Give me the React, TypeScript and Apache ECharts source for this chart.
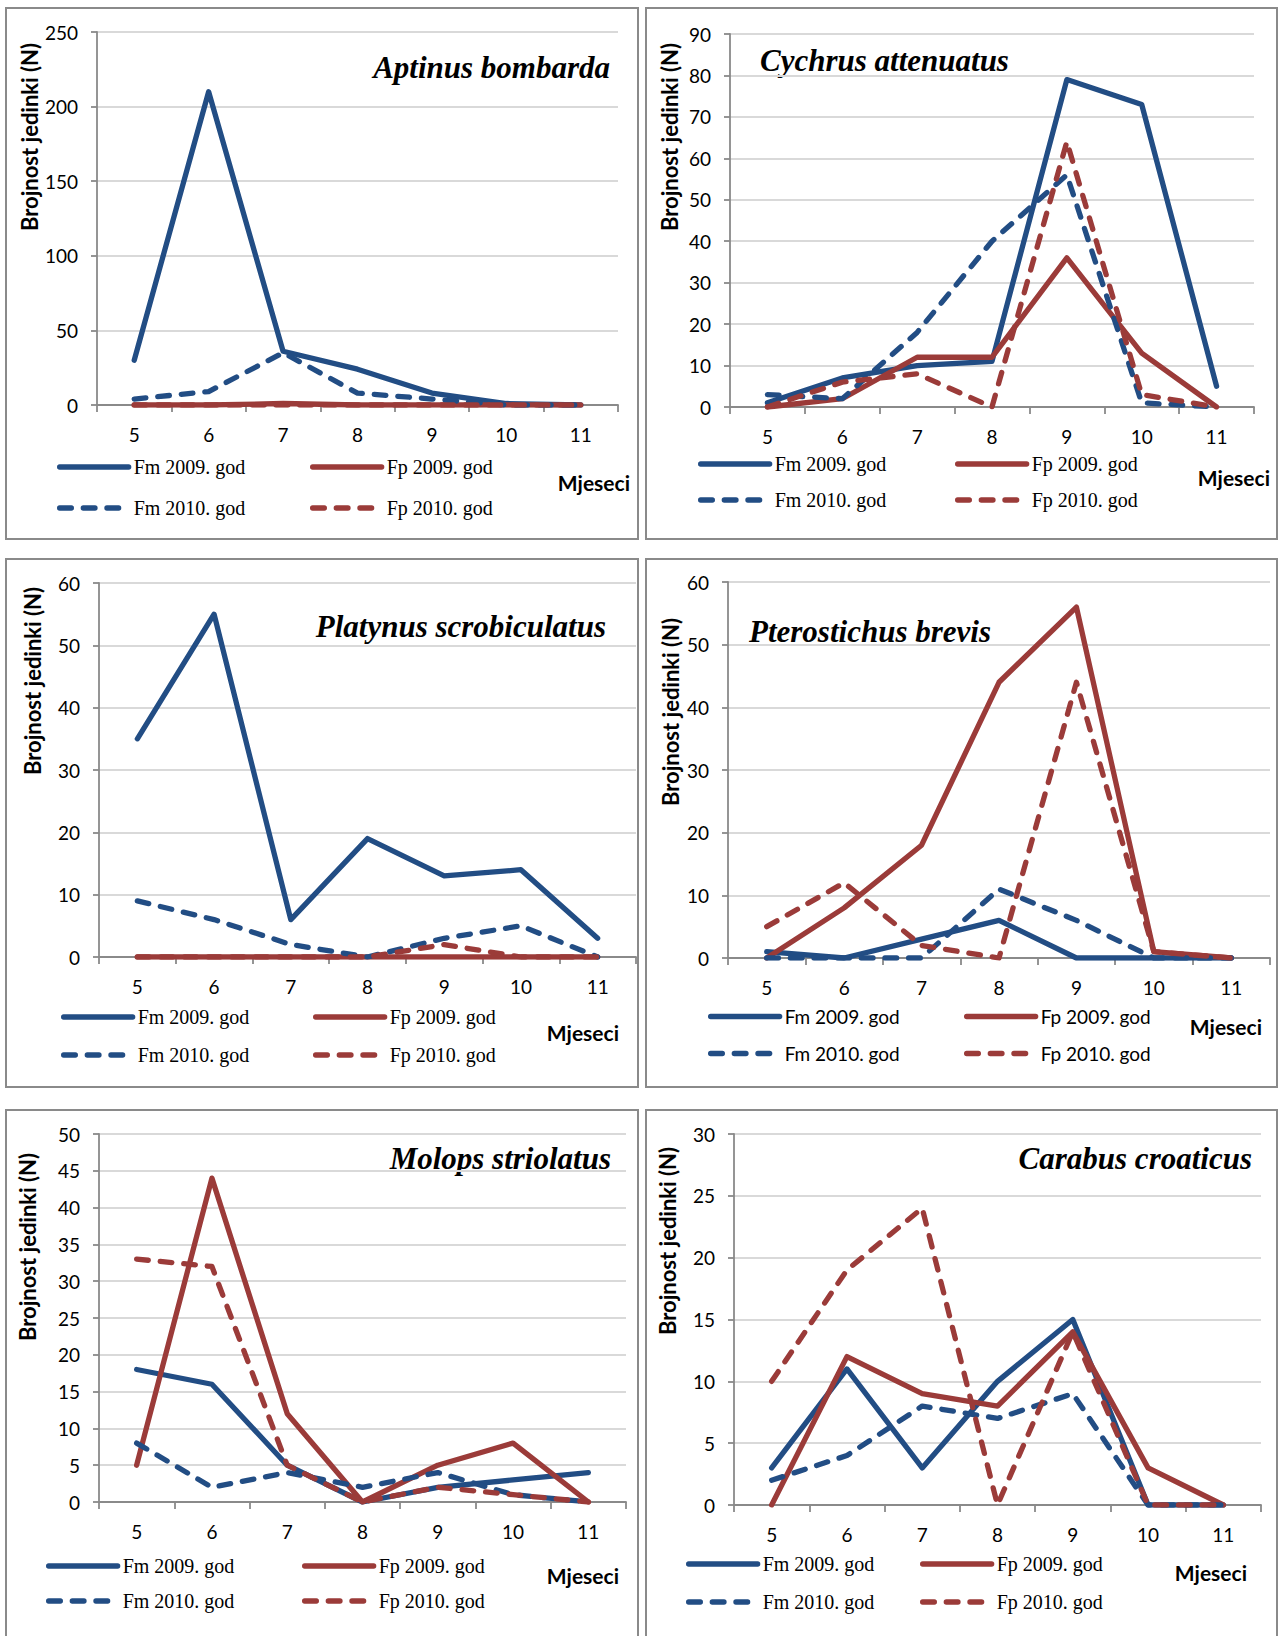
import React, { useEffect, useRef } from 'react';
import * as echarts from 'echarts';

// ---------- data ----------
const months = ['5', '6', '7', '8', '9', '10', '11'];
const seriesNames = ['Fm 2009. god', 'Fp 2009. god', 'Fm 2010. god', 'Fp 2010. god'];
const yAxisTitle = 'Brojnost jedinki (N)';
const xAxisTitle = 'Mjeseci';
const speciesNames = [
  'Aptinus bombarda',
  'Cychrus attenuatus',
  'Platynus scrobiculatus',
  'Pterostichus brevis',
  'Molops striolatus',
  'Carabus croaticus',
];
const yMax = [250, 90, 60, 60, 50, 30];
const yStep = [50, 10, 10, 10, 5, 5];

const aptinusFm2009 = [30, 210, 36, 24, 8, 1, 0];
const aptinusFp2009 = [0, 0, 1, 0, 0, 0, 0];
const aptinusFm2010 = [4, 9, 35, 8, 4, 0, 0];
const aptinusFp2010 = [0, 0, 0, 0, 0, 0, 0];

const cychrusFm2009 = [1, 7, 10, 11, 79, 73, 5];
const cychrusFp2009 = [0, 2, 12, 12, 36, 13, 0];
const cychrusFm2010 = [3, 2, 18, 40, 56, 1, 0];
const cychrusFp2010 = [0, 6, 8, 0, 64, 3, 0];

const platynusFm2009 = [35, 55, 6, 19, 13, 14, 3];
const platynusFp2009 = [0, 0, 0, 0, 0, 0, 0];
const platynusFm2010 = [9, 6, 2, 0, 3, 5, 0];
const platynusFp2010 = [0, 0, 0, 0, 2, 0, 0];

const pterostichusFm2009 = [1, 0, 3, 6, 0, 0, 0];
const pterostichusFp2009 = [0, 8, 18, 44, 56, 1, 0];
const pterostichusFm2010 = [0, 0, 0, 11, 6, 0, 0];
const pterostichusFp2010 = [5, 12, 2, 0, 44, 1, 0];

const molopsFm2009 = [18, 16, 5, 0, 2, 3, 4];
const molopsFp2009 = [5, 44, 12, 0, 5, 8, 0];
const molopsFm2010 = [8, 2, 4, 2, 4, 1, 0];
const molopsFp2010 = [33, 32, 5, 0, 2, 1, 0];

const carabusFm2009 = [3, 11, 3, 10, 15, 0, 0];
const carabusFp2009 = [0, 12, 9, 8, 14, 3, 0];
const carabusFm2010 = [2, 4, 8, 7, 9, 0, 0];
const carabusFp2010 = [10, 19, 24, 0, 14, 0, 0];

const panelData = [
  [aptinusFm2009, aptinusFp2009, aptinusFm2010, aptinusFp2010],
  [cychrusFm2009, cychrusFp2009, cychrusFm2010, cychrusFp2010],
  [platynusFm2009, platynusFp2009, platynusFm2010, platynusFp2010],
  [pterostichusFm2009, pterostichusFp2009, pterostichusFm2010, pterostichusFp2010],
  [molopsFm2009, molopsFp2009, molopsFm2010, molopsFp2010],
  [carabusFm2009, carabusFp2009, carabusFm2010, carabusFp2010],
];

// ---------- layout & style ----------
type Layout = {
  grid: number[];
  frame: number[];
  title: { x: number; y: number; align: string };
  yTitle: number[];
  xTitle: number[];
  legendX: number[];
  legendY: number[];
  legendSans: boolean;
};

const layouts: Layout[] = [
  { grid: [97, 32, 521, 373], frame: [6, 8, 632, 531], title: { x: 610, y: 67, align: 'right' }, yTitle: [29, 137], xTitle: [630, 482], legendX: [57, 310], legendY: [467, 508], legendSans: false },
  { grid: [730, 34, 524, 373], frame: [646, 8, 631, 531], title: { x: 760, y: 60, align: 'left' }, yTitle: [669, 137], xTitle: [1270, 477], legendX: [698, 955], legendY: [464, 500], legendSans: false },
  { grid: [99, 583, 537, 374], frame: [6, 559, 632, 528], title: { x: 606, y: 626, align: 'right' }, yTitle: [32, 681], xTitle: [619, 1032], legendX: [61, 313], legendY: [1017, 1055], legendSans: false },
  { grid: [728, 582, 542, 376], frame: [646, 559, 631, 528], title: { x: 749, y: 631, align: 'left' }, yTitle: [670, 712], xTitle: [1262, 1026], legendX: [708, 964], legendY: [1017, 1054], legendSans: true },
  { grid: [99, 1134, 527, 368], frame: [6, 1110, 632, 560], title: { x: 611, y: 1158, align: 'right' }, yTitle: [27, 1247], xTitle: [619, 1575], legendX: [46, 302], legendY: [1566, 1601], legendSans: false },
  { grid: [734, 1134, 527, 371], frame: [646, 1110, 631, 560], title: { x: 1252, y: 1158, align: 'right' }, yTitle: [667, 1241], xTitle: [1247, 1572], legendX: [686, 920], legendY: [1564, 1602], legendSans: false },
];

const BLUE = '#224d84';
const RED = '#9b3b39';
const seriesColors = [BLUE, RED, BLUE, RED];
const seriesDashed = [false, false, true, true];
const DASH = [11.7, 11.95];
const LINE_W = 5.3;
const SANS = 'Lato, "Noto Sans", sans-serif';
const SERIF = '"Liberation Serif", "DejaVu Serif", serif';
const AXIS_GRAY = '#8a8a8a';
const GRID_GRAY = '#d9d9d9';

function buildOption() {
  const grid: any[] = [];
  const xAxis: any[] = [];
  const yAxis: any[] = [];
  const series: any[] = [];
  const legend: any[] = [];
  const graphic: any[] = [];

  layouts.forEach((L, i) => {
    grid.push({ left: L.grid[0], top: L.grid[1], width: L.grid[2], height: L.grid[3], containLabel: false });
    xAxis.push({
      type: 'category',
      gridIndex: i,
      data: months,
      boundaryGap: true,
      axisLine: { show: true, lineStyle: { color: AXIS_GRAY, width: 1.8 } },
      axisTick: { show: true, alignWithLabel: false, length: 7, inside: false, lineStyle: { color: AXIS_GRAY, width: 1.8 } },
      axisLabel: { interval: 0, margin: 20, color: '#000', fontFamily: SANS, fontSize: 19, lineHeight: 19 },
      splitLine: { show: false },
    });
    yAxis.push({
      type: 'value',
      gridIndex: i,
      min: 0,
      max: yMax[i],
      interval: yStep[i],
      axisLine: { show: true, lineStyle: { color: AXIS_GRAY, width: 1.8 } },
      axisTick: { show: true, length: 6, inside: false, lineStyle: { color: AXIS_GRAY, width: 1.8 } },
      axisLabel: { margin: 19, color: '#000', fontFamily: SANS, fontSize: 19 },
      splitLine: { show: true, lineStyle: { color: GRID_GRAY, width: 2 } },
    });
    panelData[i].forEach((values, j) => {
      series.push({
        type: 'line',
        name: seriesNames[j],
        xAxisIndex: i,
        yAxisIndex: i,
        data: values,
        symbol: 'none',
        silent: true,
        z: 2 + j,
        itemStyle: { color: seriesColors[j] },
        lineStyle: {
          color: seriesColors[j],
          width: LINE_W,
          type: seriesDashed[j] ? DASH : 'solid',
          cap: 'round',
          join: 'round',
        },
      });
      legend.push({
        data: [seriesNames[j]],
        left: L.legendX[j % 2],
        top: L.legendY[Math.floor(j / 2)] - 10,
        padding: 0,
        itemGap: 0,
        itemWidth: 69,
        itemHeight: 20,
        selectedMode: false,
        itemStyle: { opacity: 0 },
        lineStyle: {
          width: LINE_W,
          color: seriesColors[j],
          type: seriesDashed[j] ? DASH : 'solid',
          cap: 'round',
        },
        textStyle: {
          color: '#000',
          fontFamily: L.legendSans ? SANS : SERIF,
          fontSize: L.legendSans ? 19 : 20,
        },
      });
    });

    graphic.push({
      type: 'rect',
      silent: true,
      shape: { x: L.frame[0], y: L.frame[1], width: L.frame[2], height: L.frame[3] },
      style: { fill: 'none', stroke: '#8a8a8a', lineWidth: 2 },
      z: 0,
    });
    graphic.push({
      type: 'text',
      silent: true,
      x: L.yTitle[0],
      y: L.yTitle[1],
      rotation: Math.PI / 2,
      style: {
        text: yAxisTitle,
        fill: '#000',
        font: `bold 22px ${SANS}`,
        textAlign: 'center',
        textVerticalAlign: 'middle',
      },
    });
    graphic.push({
      type: 'text',
      silent: true,
      x: L.xTitle[0],
      y: L.xTitle[1],
      style: {
        text: xAxisTitle,
        fill: '#000',
        font: `bold 21px ${SANS}`,
        textAlign: 'right',
        textVerticalAlign: 'middle',
      },
    });
    graphic.push({
      type: 'text',
      silent: true,
      x: L.title.x,
      y: L.title.y,
      style: {
        text: speciesNames[i],
        fill: '#000',
        font: `italic bold 31px ${SERIF}`,
        textAlign: L.title.align,
        textVerticalAlign: 'middle',
      },
    });
  });

  return {
    animation: false,
    backgroundColor: '#ffffff',
    grid,
    xAxis,
    yAxis,
    series,
    legend,
    graphic,
  };
}

export default function App() {
  const ref = useRef<HTMLDivElement>(null);
  useEffect(() => {
    document.body.style.margin = '0';
    const chart = echarts.init(ref.current as HTMLDivElement, null, { renderer: 'svg' });
    chart.setOption(buildOption() as any);
    return () => {
      chart.dispose();
    };
  }, []);
  return <div ref={ref} style={{ width: 1278, height: 1636, background: '#fff' }} />;
}
